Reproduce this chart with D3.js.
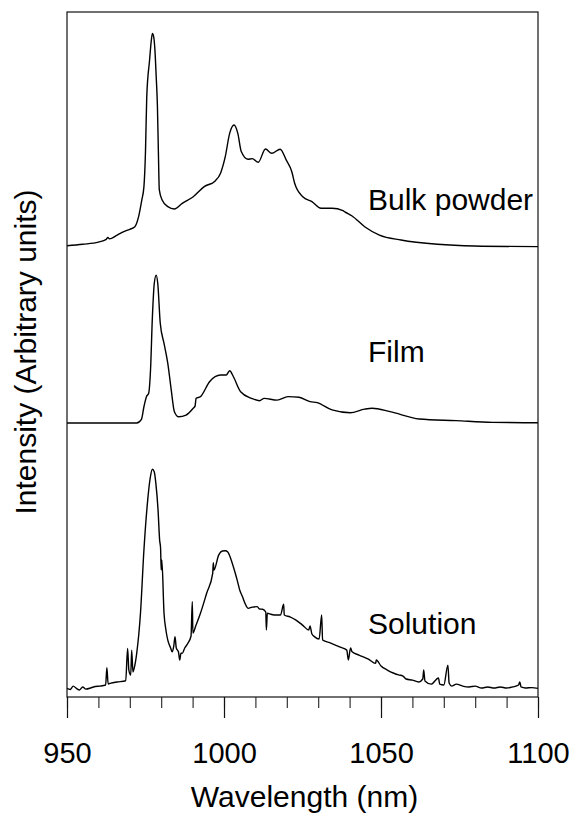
<!DOCTYPE html>
<html>
<head>
<meta charset="utf-8">
<script src="https://cdn.jsdelivr.net/npm/d3@7"></script>
<style>
  body { margin: 0; background: #fff; }
  svg { display: block; font-family: Arial, "Liberation Sans", sans-serif; }
</style>
</head>
<body>
<svg></svg>
<script>
// spectra: [wavelength nm, intensity arb. units]
let bulkPowder = [
  [950,0.008],[955,0.015],[960,0.025],[962.5,0.038],[963.0,0.047],[963.5,0.040],[966,0.058],
  [968.1,0.074],[970,0.085],[971.6,0.097],[972.8,0.144],[973.8,0.22],[974.5,0.284],[975.0,0.45],
  [975.4,0.704],[976.3,0.876],[976.8,0.96],[977.2,1.0],[977.6,0.985],[978,0.923],[978.4,0.80],
  [978.8,0.658],[979.1,0.45],[979.4,0.269],[980.3,0.222],[982.1,0.191],[984.2,0.180],[986.7,0.206],
  [990.2,0.237],[993.7,0.284],[997.2,0.311],[998.9,0.347],[1000.4,0.424],[1001.8,0.533],[1003.2,0.572],
  [1004.4,0.533],[1005.5,0.448],[1007.6,0.412],[1009,0.415],[1010.9,0.398],[1013.2,0.460],[1015.2,0.440],
  [1017.9,0.459],[1019.8,0.409],[1021.6,0.354],[1022.5,0.300],[1025.1,0.237],[1028,0.214],[1030.9,0.183],
  [1034.4,0.183],[1037.9,0.172],[1038.5,0.166],[1040.8,0.147],[1044.8,0.097],[1049.5,0.058],[1056.4,0.035],
  [1068,0.015],[1079.7,0.007],[1100,0.004]
]

let film = [
  [950,0],[972.2,0],[973.7,0.017],[974.5,0.076],[975.3,0.123],[976,0.139],[976.6,0.248],[977.2,0.497],
  [977.8,0.653],[978.4,0.691],[978.9,0.653],[979.7,0.466],[980.9,0.372],[982.1,0.279],[983.2,0.154],
  [984.2,0.053],[985.6,0.029],[987.9,0.037],[990.2,0.069],[990.8,0.080],[991.1,0.115],[992.5,0.123],
  [995.4,0.193],[998.9,0.224],[1000.7,0.224],[1001.8,0.244],[1003,0.216],[1005.3,0.146],[1008.8,0.115],
  [1011.3,0.104],[1012.8,0.115],[1016.9,0.107],[1020.4,0.123],[1023.9,0.120],[1027.4,0.100],[1029.7,0.095],
  [1034.4,0.061],[1040.2,0.048],[1044.8,0.065],[1047.2,0.069],[1052.9,0.053],[1062.2,0.019],[1073.9,0.011],
  [1085.5,0.003],[1100,0.001]
]

let solution = [
  [950,0.000],[951,-0.005],[952,0.011],[953,0.000],[954,-0.007],[955,0.007],[956,-0.003],[957.7,0.003],
  [959,0.009],[960.5,0.011],[962.3,0.016],[962.7,0.097],[963.1,0.021],[964,0.025],[966,0.030],[968.7,0.036],
  [969.3,0.187],[969.7,0.086],[970.3,0.063],[970.6,0.179],[971.0,0.077],[971.4,0.095],[972.2,0.164],
  [973.4,0.351],[974.5,0.647],[975.7,0.880],[976.5,0.983],[977.2,1.024],[977.8,1.011],[978.3,0.958],
  [979.0,0.833],[979.5,0.693],[979.8,0.656],[980.0,0.553],[980.2,0.600],[980.9,0.351],[981.5,0.273],
  [982.1,0.226],[983,0.189],[983.5,0.171],[984.0,0.198],[984.4,0.242],[984.8,0.189],[985.5,0.170],
  [985.9,0.133],[986.3,0.165],[986.7,0.164],[987.5,0.189],[988.5,0.211],[989.5,0.245],[989.9,0.405],
  [990.1,0.259],[991,0.292],[992.5,0.351],[994.5,0.446],[996.4,0.538],[996.6,0.587],[996.8,0.553],
  [998.3,0.623],[999.5,0.642],[1000.4,0.643],[1001.2,0.637],[1002.1,0.608],[1003,0.567],[1004.2,0.506],
  [1005.0,0.460],[1005.9,0.428],[1006.8,0.394],[1007.7,0.374],[1009,0.380],[1010.6,0.382],[1011.3,0.371],
  [1012.3,0.370],[1013.3,0.357],[1013.5,0.273],[1013.8,0.352],[1014.6,0.348],[1016,0.343],[1018,0.343],
  [1019,0.393],[1019.2,0.343],[1021,0.334],[1022.8,0.320],[1025,0.296],[1027.0,0.273],[1027.4,0.292],
  [1028,0.254],[1028.8,0.242],[1030.3,0.231],[1031.1,0.343],[1031.4,0.226],[1034,0.212],[1037,0.193],
  [1039.1,0.179],[1039.6,0.133],[1040.3,0.189],[1040.8,0.171],[1043,0.156],[1046,0.137],[1048.3,0.117],
  [1048.5,0.133],[1050,0.105],[1052,0.086],[1054.1,0.071],[1055.6,0.063],[1057,0.058],[1058,0.044],
  [1060,0.039],[1062,0.030],[1063.3,0.044],[1063.6,0.086],[1064,0.035],[1066,0.020],[1068.3,0.049],
  [1068.7,0.020],[1070,0.016],[1071.3,0.109],[1071.7,0.025],[1072.5,0.011],[1074,0.020],[1076,0.011],
  [1078,0.007],[1080,0.011],[1082,0.002],[1084,0.007],[1086,0.002],[1088,0.007],[1090,0.002],[1092,0.007],
  [1093.8,0.016],[1094.2,0.030],[1094.6,0.007],[1096,0.002],[1098,0.004],[1100,0.000]
]

let seriesNames = ['Bulk powder', 'Film', 'Solution']
let seriesOffsets = [2.10, 1.28, 0.04]   // vertical stacking of the three spectra
let majorTicks = [950, 1000, 1050, 1100]
let minorTicks = d3.range(950, 1101, 10)

let width = 572
let height = 813
let plotLeft = 67, plotRight = 538, plotTop = 12, plotBottom = 697

let svg = d3.select('svg')
svg.attr('width', width).attr('height', height)

let xScale = d3.scaleLinear().domain([950, 1100]).range([plotLeft, plotRight])
let yScale = d3.scaleLinear().domain([0, 3.2]).range([plotBottom, plotTop])

const drawSpectra = () => {
    let allSeries = [bulkPowder, film, solution]
    allSeries.forEach((values, i) => {
        let line = d3.line()
                     .x(item => xScale(item[0]))
                     .y(item => yScale(item[1] + seriesOffsets[i]))
                     .curve(d3.curveMonotoneX)
        svg.append('path')
           .datum(values)
           .attr('fill', 'none')
           .attr('stroke', '#000')
           .attr('stroke-width', 1.4)
           .attr('stroke-linejoin', 'round')
           .attr('d', line)
    })
}

const drawAxes = () => {
    svg.append('rect')
       .attr('x', plotLeft).attr('y', plotTop)
       .attr('width', plotRight - plotLeft).attr('height', plotBottom - plotTop)
       .attr('fill', 'none')
       .attr('stroke', '#111')
       .attr('stroke-width', 1.2)

    let minor = svg.append('g')
                   .attr('transform', `translate(0, ${plotBottom})`)
                   .call(d3.axisBottom(xScale).tickValues(minorTicks).tickSize(11).tickFormat(''))
    minor.select('.domain').remove()
    minor.selectAll('line').attr('stroke', '#222').attr('stroke-width', 1.1)

    let major = svg.append('g')
                   .attr('transform', `translate(0, ${plotBottom})`)
                   .call(d3.axisBottom(xScale).tickValues(majorTicks).tickSize(21)
                           .tickPadding(24).tickFormat(d3.format('d')))
    major.select('.domain').remove()
    major.selectAll('line').attr('stroke', '#111').attr('stroke-width', 1.2)
    major.selectAll('text')
         .attr('font-size', 29)
         .attr('font-family', 'Arial, "Liberation Sans", sans-serif')
         .attr('fill', '#000')

    svg.append('text')
       .attr('x', (plotLeft + plotRight) / 2 + 2)
       .attr('y', 807)
       .attr('text-anchor', 'middle')
       .attr('font-size', 30)
       .text('Wavelength (nm)')

    svg.append('text')
       .attr('transform', `translate(36, 352) rotate(-90)`)
       .attr('text-anchor', 'middle')
       .attr('font-size', 30)
       .text('Intensity (Arbitrary units)')
}

const drawLabels = () => {
    let labelY = [210, 362, 634]
    seriesNames.forEach((name, i) => {
        svg.append('text')
           .attr('x', 368)
           .attr('y', labelY[i])
           .attr('font-size', 30)
           .text(name)
    })
}

drawSpectra()
drawAxes()
drawLabels()
</script>
</body>
</html>
